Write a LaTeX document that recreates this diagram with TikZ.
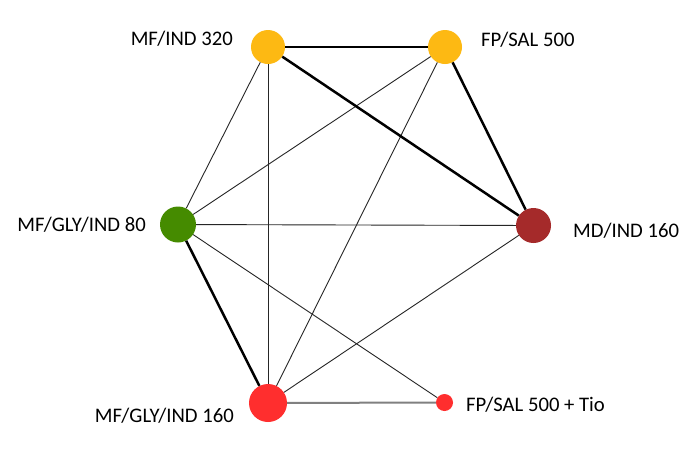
\documentclass[tikz,border=0pt]{standalone}
\usepackage{fontspec}
\setmainfont{Carlito}
\definecolor{cgold}{HTML}{FDB913}
\definecolor{cgreen}{HTML}{458B00}
\definecolor{cdred}{HTML}{A52A2A}
\definecolor{cred}{HTML}{FF2E2E}
\definecolor{cgray}{HTML}{808080}
\begin{document}
\begin{tikzpicture}[x=1pt,y=-1pt,
  dot/.style={circle,inner sep=0pt,minimum size=#1},
  lbl/.style={inner sep=0pt,font=\fontsize{20.7}{24}\selectfont},
  thin edge/.style={line width=0.9pt,black!85},
  thick edge/.style={line width=2.5pt,black},
  gray edge/.style={line width=2pt,cgray}]
\useasboundingbox[fill=white] (0,0) rectangle (694,451);
% nodes
\node[dot=34pt,fill=cgold] (a) at (268,47) {};
\node[dot=34pt,fill=cgold] (b) at (445,47) {};
\node[dot=35pt,fill=cdred] (c) at (533.5,225.5) {};
\node[dot=36pt,fill=cgreen] (d) at (178,224.5) {};
\node[dot=38pt,fill=cred] (e) at (268,403) {};
\node[dot=17pt,fill=cred] (f) at (444.5,402.5) {};
% edges
\begin{scope}[on background layer/.style={}]
\end{scope}
\draw[thin edge] (a) -- (d);
\draw[thin edge] (a) -- (e);
\draw[thin edge] (b) -- (d);
\draw[thin edge] (b) -- (e);
\draw[thin edge] (d) -- (c);
\draw[thin edge] (d) -- (f);
\draw[thin edge] (e) -- (c);
\draw[thick edge] (a) -- (b);
\draw[thick edge] (a) -- (c);
\draw[thick edge] (b) -- (c);
\draw[thick edge] (d) -- (e);
\draw[gray edge] (e) -- (f);
% labels
\node[lbl,anchor=base east] (la) at (233,45) {MF/IND 320};
\node[lbl,anchor=base west] (lb) at (481,46) {FP/SAL 500};
\node[lbl,anchor=base east] (ld) at (146,231) {MF/GLY/IND 80};
\node[lbl,anchor=base west] (lc) at (573,237) {MD/IND 160};
\node[lbl,anchor=base east] (le) at (234,422) {MF/GLY/IND 160};
\node[lbl,anchor=base west] (lf) at (466,411) {FP/SAL 500 + Tio};
\end{tikzpicture}
\end{document}
